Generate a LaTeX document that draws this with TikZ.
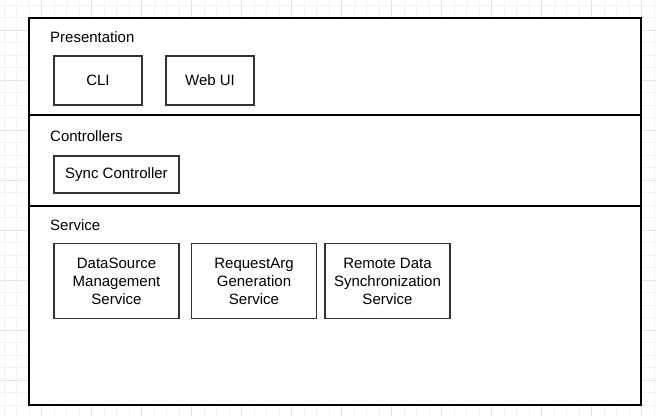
\documentclass[tikz,border=0pt]{standalone}
\usepackage{fontspec}
\setmainfont{Liberation Sans}
\usetikzlibrary{positioning}
\colorlet{gridmin}{black!5}
\colorlet{gridmaj}{black!11}
\tikzstyle{layer}=[draw,line width=1.25pt,minimum width=612pt,inner sep=0pt,outer sep=0pt,anchor=north west]
\tikzstyle{lbl}=[anchor=west,inner sep=0pt,font=\fontsize{15}{18}\selectfont]
\tikzstyle{comp}=[draw=black!80,line width=1.25pt,align=center,inner sep=0pt,outer sep=0pt,font=\fontsize{15}{18}\selectfont]
\tikzstyle{wide}=[comp,minimum width=125pt,minimum height=75pt]

\begin{document}
\begin{tikzpicture}[x=1pt,y=-1pt]
	\useasboundingbox (0,0) rectangle (656,416);
	% background grid
	\foreach \gx in {4,16.5,...,656} \draw[gridmin] (\gx,0) -- (\gx,416);
	\foreach \gy in {5,17.5,...,416} \draw[gridmin] (0,\gy) -- (656,\gy);
	\foreach \gx in {41.5,91.5,...,656} \draw[gridmaj] (\gx,0) -- (\gx,416);
	\foreach \gy in {30,80,...,416} \draw[gridmaj] (0,\gy) -- (656,\gy);
	% layers
	\node[layer,fill=white,minimum height=97pt]  (pres) at (29,18) {};
	\node[layer,fill=white,minimum height=91pt]  (ctrl) at (pres.south west) {};
	\node[layer,fill=white,minimum height=199pt] (serv) at (ctrl.south west) {};
	\node[lbl] (presl) at (50,37)  {Presentation};
	\node[lbl] (ctrll) at (50,136) {Controllers};
	\node[lbl] (servl) at (50,225) {Service};
	% components
	\node[comp,minimum width=88pt,minimum height=49pt] (cli) at (98,80.5) {CLI};
	\node[comp,minimum width=88pt,minimum height=49pt,right=24pt of cli] (web) {Web UI};
	\node[comp,minimum width=125pt,minimum height=37pt] (sync) at (116.5,174.5) {Sync Controller};
	\node[wide] (dsm) at (116.5,281) {DataSource\\Management\\Service};
	\node[wide,right=12.5pt of dsm] (rag) {RequestArg\\Generation\\Service};
	\node[wide,right=8.5pt of rag] (rds) {Remote Data\\Synchronization\\Service};
\end{tikzpicture}
\end{document}
